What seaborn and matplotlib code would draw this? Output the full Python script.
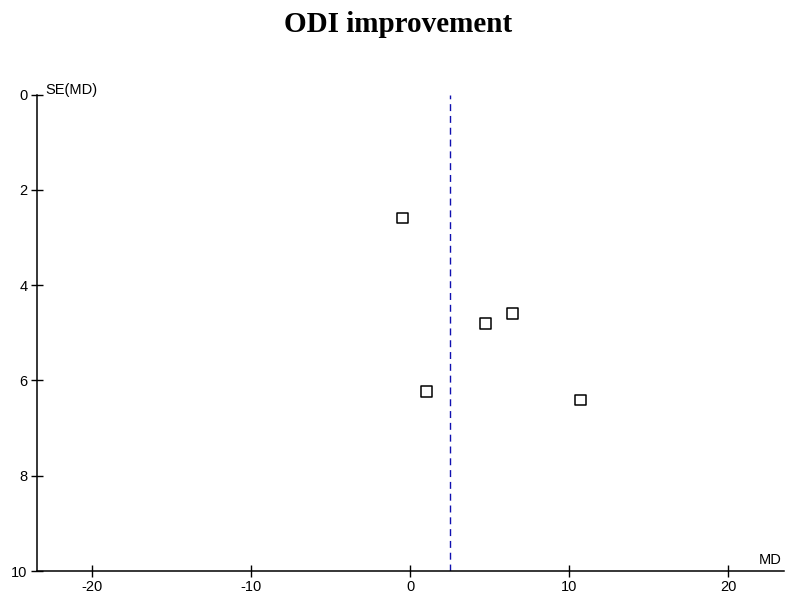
import pandas as pd
import seaborn as sns
import matplotlib.pyplot as plt

# study estimates (mean difference) and their standard errors
md = [-0.5, 1.0, 4.7, 6.4, 10.7]
se = [2.59, 6.24, 4.81, 4.59, 6.41]
pooled_md = 2.52

x_ticks = [-20, -10, 0, 10, 20]
y_ticks = [0, 2, 4, 6, 8, 10]

sns.set_theme(style="ticks", rc={"text.color": "black", "axes.labelcolor": "black",
                                 "xtick.color": "black", "ytick.color": "black",
                                 "axes.unicode_minus": False})
plt.rcParams['font.family'] = ['Liberation Sans', 'DejaVu Sans']

df = pd.DataFrame({"MD": md, "SE": se})

fig = plt.figure(figsize=(7.88, 6), dpi=100)
ax = fig.add_axes([0.0466, 0.0483, 0.9484, 0.7942])

ax.axvline(pooled_md, color="#1010b0", lw=1, ls=(0, (5, 3.5)))
sns.scatterplot(data=df, x="MD", y="SE", marker="s", s=60, facecolor="none",
                edgecolor="black", linewidth=1.1, ax=ax, zorder=3)

ax.set_xlim(-23.5, 23.5)
ax.set_ylim(10, 0)
ax.set_xticks(x_ticks)
ax.set_yticks(y_ticks)
ax.set_xlabel("")
ax.set_ylabel("")
sns.despine(ax=ax)
for sp in ["left", "bottom"]:
    ax.spines[sp].set_linewidth(1.1)
    ax.spines[sp].set_color("black")
ax.tick_params(direction="inout", length=9, width=1, colors="black",
               labelsize=10.5, pad=2)

ax.text(0.011, 0.995, "SE(MD)", transform=ax.transAxes, ha="left", va="bottom",
        fontsize=10.5)
ax.text(0.997, 0.008, "MD", transform=ax.transAxes, ha="right", va="bottom",
        fontsize=10.5)

fig.suptitle("ODI improvement", x=0.505, y=0.982, fontsize=21, fontweight="bold",
             family="Liberation Serif", color="black")

fig.savefig("out.png", dpi=100)
